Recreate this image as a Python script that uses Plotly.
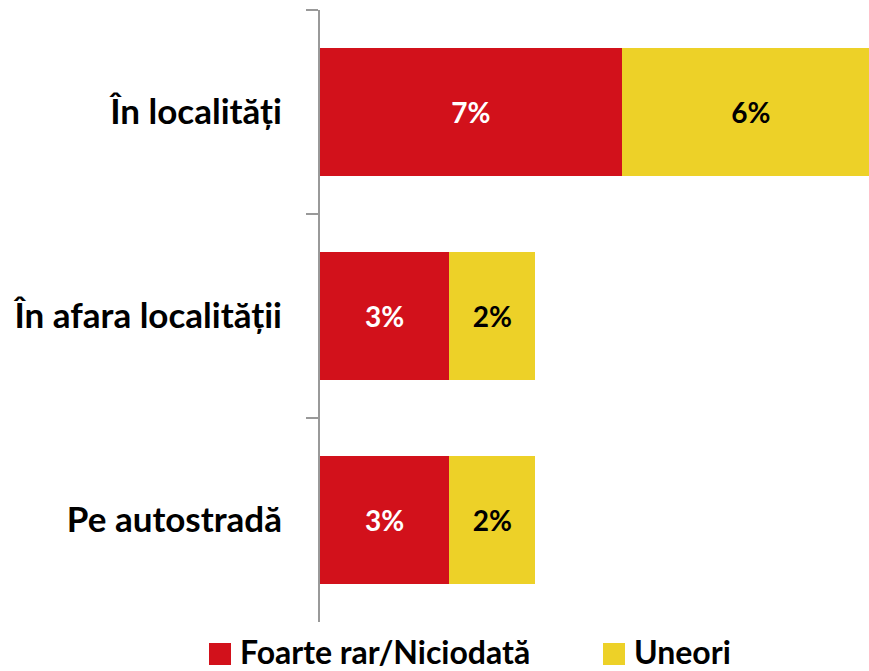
import plotly.graph_objects as go

categories = ["În localități", "În afara localității", "Pe autostradă"]
rar_values = [7, 3, 3]
uneori_values = [6, 2, 2]
series_names = ["Foarte rar/Niciodată", "Uneori"]
RED = "#D2111B"
YELLOW = "#EDD128"
FONT = "Lato"

fig = go.Figure()
fig.add_trace(go.Bar(
    y=categories, x=rar_values, orientation="h", name=series_names[0],
    marker=dict(color=RED, line=dict(width=0)),
    text=[f"{v}%" for v in rar_values], textposition="inside",
    insidetextanchor="middle", constraintext="none",
    textfont=dict(family=FONT, size=28, color="white", weight=700),
    showlegend=False,
))
fig.add_trace(go.Bar(
    y=categories, x=uneori_values, orientation="h", name=series_names[1],
    marker=dict(color=YELLOW, line=dict(width=0)),
    text=[f"{v}%" for v in uneori_values], textposition="inside",
    insidetextanchor="middle", constraintext="none",
    textfont=dict(family=FONT, size=28, color="black", weight=700),
    showlegend=False,
))

W, H = 869, 671
ml, mr, mt, mb = 320, 0, 10, 49
pw = W - ml - mr
ph = H - mt - mb


def px_to_paper_x(px):
    return (px - ml) / pw


def px_to_paper_y(py):
    return (H - mb - py) / ph


# manual legend (large square swatches like the reference)
for name, color, sx in [(series_names[0], RED, 209), (series_names[1], YELLOW, 603)]:
    fig.add_shape(type="rect", xref="paper", yref="paper",
                  x0=px_to_paper_x(sx), x1=px_to_paper_x(sx + 22),
                  y0=px_to_paper_y(665), y1=px_to_paper_y(643),
                  fillcolor=color, line=dict(width=0))
    fig.add_annotation(xref="paper", yref="paper", x=px_to_paper_x(sx + 29),
                       y=px_to_paper_y(651), text=name, showarrow=False,
                       xanchor="left", yanchor="middle",
                       font=dict(family=FONT, size=32, color="black", weight=700))

fig.update_layout(
    width=W, height=H, barmode="stack", bargap=0.368,
    margin=dict(l=ml, r=mr, t=mt, b=mb),
    plot_bgcolor="white", paper_bgcolor="white",
    showlegend=False,
    uniformtext=dict(mode=False),
)
fig.update_xaxes(range=[0, 12.74], visible=False, showgrid=False, zeroline=False)
fig.update_yaxes(
    autorange="reversed", showline=True, linecolor="#999999", linewidth=2,
    ticks="outside", tickson="boundaries", ticklen=12, tickcolor="#999999", tickwidth=2,
    tickfont=dict(family=FONT, size=35, color="black", weight=700),
    ticklabelstandoff=29, showgrid=False,
)
fig.write_html(
    "out.html",
    config={"displayModeBar": False},
    post_script="document.body.style.margin='0px';document.body.style.overflow='hidden';",
)
